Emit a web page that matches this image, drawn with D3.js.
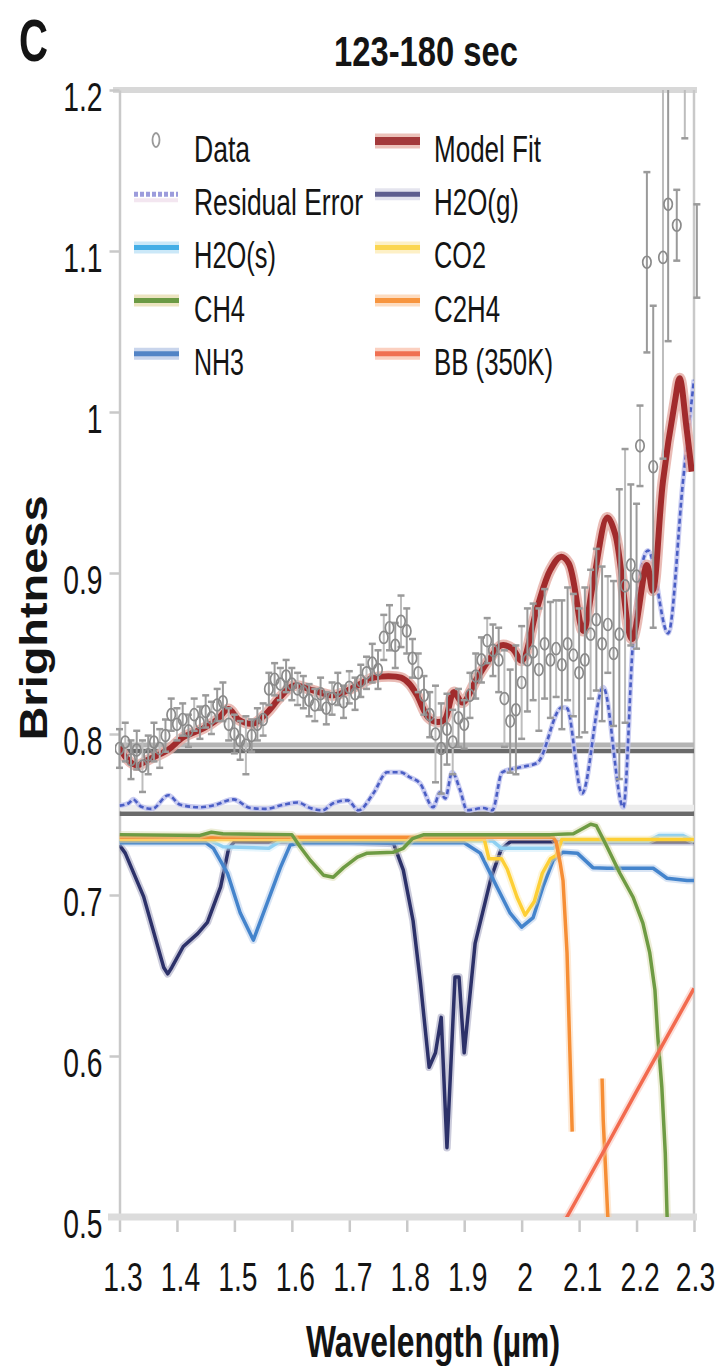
<!DOCTYPE html>
<html>
<head>
<meta charset="utf-8">
<script src="https://cdn.jsdelivr.net/npm/d3@7/dist/d3.min.js"></script>
<style>
html,body{margin:0;padding:0;background:#fff;}
svg{display:block;}
text{font-family:"Liberation Sans",Arial,sans-serif;fill:#141414;}
</style>
</head>
<body>
<svg id="chart" width="719" height="1368"></svg>
<script>
// ================= DATA =================
const xTickValues = [1.3,1.4,1.5,1.6,1.7,1.8,1.9,2.0,2.1,2.2,2.3];
const xTickLabels = ["1.3","1.4","1.5","1.6","1.7","1.8","1.9","2","2.1","2.2","2.3"];
const yTickValues = [0.5,0.6,0.7,0.8,0.9,1.0,1.1,1.2];
const yTickLabels = ["0.5","0.6","0.7","0.8","0.9","1","1.1","1.2"];

// observed spectrum (wavelength µm, brightness, 1-sigma error)
const dataWl = [1.30,1.31,1.32,1.33,1.34,1.35,1.36,1.37,1.38,1.39,
  1.40,1.41,1.42,1.43,1.44,1.45,1.46,1.47,1.48,1.49,
  1.50,1.51,1.52,1.53,1.54,1.55,1.56,1.57,1.58,1.59,
  1.60,1.61,1.62,1.63,1.64,1.65,1.66,1.67,1.68,1.69,
  1.70,1.71,1.72,1.73,1.74,1.75,1.76,1.77,1.78,1.79,
  1.80,1.81,1.82,1.83,1.84,1.85,1.86,1.87,1.88,1.89,
  1.90,1.91,1.92,1.93,1.94,1.95,1.96,1.97,1.98,1.99,
  2.00,2.01,2.02,2.03,2.04,2.05,2.06,2.07,2.08,2.09,
  2.10,2.11,2.12,2.13,2.14,2.15,2.16,2.17,2.18,2.19,
  2.20,2.206,2.218,2.229,2.246,2.255,2.270,2.284,2.305];
const dataVal = [0.791,0.795,0.784,0.790,0.780,0.787,0.795,0.791,0.799,0.812,
  0.806,0.809,0.802,0.812,0.807,0.814,0.810,0.818,0.820,0.806,
  0.800,0.796,0.793,0.799,0.806,0.809,0.828,0.834,0.831,0.836,
  0.831,0.828,0.826,0.821,0.818,0.825,0.816,0.822,0.828,0.820,
  0.829,0.825,0.833,0.838,0.844,0.840,0.860,0.866,0.855,0.870,
  0.864,0.847,0.838,0.824,0.812,0.800,0.791,0.803,0.795,0.810,
  0.806,0.824,0.836,0.846,0.858,0.852,0.846,0.822,0.808,0.815,
  0.832,0.846,0.851,0.840,0.856,0.846,0.853,0.843,0.856,0.849,
  0.838,0.846,0.862,0.871,0.856,0.868,0.850,0.862,0.892,0.905,
  0.898,0.979,1.093,0.966,1.096,1.129,1.116,1.240,1.100];
const dataErr = [0.012,0.012,0.012,0.012,0.016,0.012,0.012,0.012,0.010,0.010,
  0.010,0.010,0.010,0.010,0.010,0.010,0.010,0.010,0.012,0.010,
  0.012,0.012,0.018,0.010,0.010,0.010,0.010,0.010,0.010,0.010,
  0.010,0.010,0.010,0.010,0.010,0.010,0.010,0.010,0.010,0.010,
  0.010,0.010,0.010,0.010,0.012,0.012,0.014,0.014,0.014,0.016,
  0.014,0.012,0.012,0.012,0.014,0.030,0.028,0.022,0.020,0.018,
  0.015,0.014,0.014,0.014,0.014,0.016,0.020,0.030,0.032,0.040,
  0.035,0.032,0.030,0.038,0.034,0.036,0.030,0.040,0.035,0.038,
  0.040,0.045,0.040,0.044,0.048,0.030,0.045,0.090,0.085,0.050,
  0.045,0.025,0.056,0.100,0.125,0.085,0.022,0.070,0.029];

// model fit
const fitWl = [1.300,1.312,1.330,1.350,1.384,1.411,1.446,1.470,1.490,1.507,1.533,1.556,1.580,1.603,1.638,1.673,1.708,1.743,1.790,1.805,1.818,1.838,1.853,1.866,1.882,1.897,1.923,1.945,1.964,1.984,2.000,2.027,2.050,2.068,2.082,2.107,2.125,2.149,2.163,2.192,2.218,2.228,2.246,2.267,2.275,2.287,2.296];
const fitVal = [0.792,0.785,0.7805,0.784,0.790,0.798,0.8035,0.809,0.8155,0.809,0.8065,0.813,0.823,0.830,0.827,0.824,0.829,0.835,0.835,0.831,0.824,0.810,0.8075,0.809,0.826,0.8195,0.835,0.847,0.855,0.853,0.8455,0.8785,0.902,0.910,0.906,0.864,0.895,0.9345,0.924,0.859,0.905,0.889,0.957,1.007,1.021,0.990,0.963];

// residual error
const residWl = [1.300,1.316,1.324,1.337,1.357,1.385,1.406,1.441,1.467,1.498,1.528,1.554,1.585,1.610,1.632,1.653,1.672,1.697,1.716,1.742,1.766,1.789,1.806,1.823,1.846,1.858,1.867,1.879,1.893,1.905,1.933,1.949,1.966,1.997,2.027,2.070,2.079,2.105,2.142,2.177,2.194,2.220,2.255,2.281,2.300];
const residVal = [0.7555,0.757,0.7594,0.755,0.7535,0.762,0.756,0.7545,0.756,0.7594,0.754,0.7535,0.756,0.7575,0.754,0.7526,0.757,0.7588,0.7526,0.7632,0.7762,0.7762,0.773,0.7694,0.7545,0.7638,0.760,0.7762,0.765,0.7526,0.754,0.7526,0.7762,0.7793,0.782,0.8166,0.816,0.763,0.829,0.7545,0.858,0.914,0.8625,0.9575,1.020];

// reference levels
const refLevels = [0.7895, 0.7505];

// model components
const h2ogWl = [1.300,1.310,1.342,1.377,1.384,1.391,1.411,1.436,1.453,1.476,1.490,1.500,1.700,1.777,1.794,1.811,1.824,1.839,1.850,1.860,1.870,1.884,1.891,1.900,1.919,1.947,1.964,1.980,2.300];
const h2ogVal = [0.731,0.726,0.699,0.655,0.651,0.655,0.668,0.676,0.683,0.705,0.729,0.733,0.733,0.732,0.7154,0.684,0.645,0.593,0.602,0.624,0.543,0.649,0.649,0.602,0.670,0.711,0.728,0.733,0.733];
const h2osWl = [1.300,1.460,1.480,1.560,1.580,1.950,1.965,2.055,2.070,2.220,2.240,2.280,2.300];
const h2osVal = [0.7335,0.7335,0.730,0.729,0.7335,0.7335,0.729,0.729,0.7335,0.7335,0.737,0.737,0.7335];
const nh3Wl = [1.300,1.450,1.4635,1.488,1.510,1.533,1.557,1.580,1.597,1.620,1.900,1.928,1.957,1.980,2.000,2.020,2.037,2.055,2.072,2.097,2.124,2.149,2.229,2.253,2.288,2.300];
const nh3Val = [0.7325,0.7325,0.729,0.7135,0.689,0.672,0.695,0.717,0.731,0.7325,0.7325,0.726,0.705,0.6887,0.680,0.686,0.705,0.7216,0.7266,0.726,0.717,0.7166,0.7166,0.7104,0.709,0.709];
const co2Wl = [1.300,1.935,1.943,1.965,1.975,1.992,2.006,2.022,2.036,2.050,2.060,2.070,2.300];
const co2Val = [0.7345,0.7345,0.7225,0.7225,0.716,0.6986,0.6875,0.696,0.7135,0.7225,0.7245,0.7345,0.7345];
const ch4Wl = [1.300,1.440,1.460,1.480,1.600,1.615,1.632,1.655,1.672,1.690,1.714,1.731,1.777,1.794,1.810,1.830,2.050,2.090,2.105,2.120,2.130,2.140,2.149,2.171,2.194,2.211,2.223,2.232,2.237,2.244,2.250,2.253,2.256];
const ch4Val = [0.7375,0.737,0.739,0.738,0.7375,0.7297,0.7216,0.7123,0.711,0.717,0.7235,0.726,0.7266,0.729,0.735,0.7375,0.7375,0.738,0.741,0.744,0.743,0.736,0.7297,0.7135,0.6986,0.6825,0.664,0.641,0.612,0.5807,0.5397,0.5025,0.47];
const c2h4Wl = [1.300,2.055,2.060,2.067,2.072,2.079,2.084,2.088,2.110,2.140,2.142,2.146,2.150,2.153];
const c2h4Val = [0.7358,0.7358,0.733,0.720,0.709,0.664,0.602,0.553,null,0.586,0.560,0.530,0.500,0.480];
const bbWl = [2.060,2.100,2.150,2.200,2.250,2.300];
const bbVal = [0.488,0.5135,0.5455,0.578,0.610,0.642];

const legendLeft = ["Data","Residual Error","H2O(s)","CH4","NH3"];
const legendRight = ["Model Fit","H2O(g)","CO2","C2H4","BB (350K)"];

// ================= DRAWING =================
const svg = d3.select("#chart");
const x = d3.scaleLinear().domain([1.3,2.3]).range([119.5,694]);
const y = d3.scaleLinear().domain([0.5,1.2]).range([1217,90]);

const defs = svg.append("defs");
defs.append("clipPath").attr("id","plotClip").append("rect")
  .attr("x",119.5).attr("y",90).attr("width",694-119.5).attr("height",1217-90);
defs.append("clipPath").attr("id","dataClip").append("rect")
  .attr("x",115).attr("y",90).attr("width",592).attr("height",1217-90);

const grey = "#c9c9c9";
const condense = 0.69;   // horizontal squeeze of the narrow tick font

// Frame lines
svg.append("line").attr("x1",113).attr("x2",697).attr("y1",y(1.2)).attr("y2",y(1.2))
  .attr("stroke","#d8d8d8").attr("stroke-width",6);
svg.append("line").attr("x1",x(2.3)).attr("x2",x(2.3)).attr("y1",y(1.2)).attr("y2",y(0.5))
  .attr("stroke",grey).attr("stroke-width",2.5);

// Y axis
const gy = svg.append("g").attr("transform",`translate(${x(1.3)},0)`)
  .call(d3.axisLeft(y).tickValues(yTickValues).tickSize(10).tickSizeOuter(0)
    .tickFormat((d,i)=>yTickLabels[i]));
gy.attr("font-size",null).attr("font-family",null);
gy.select(".domain").attr("stroke",grey).attr("stroke-width",2.5);
gy.selectAll(".tick line").attr("stroke",grey).attr("stroke-width",2.5);
gy.selectAll(".tick text")
  .attr("x",-17/condense).attr("dy",null).attr("y",20)
  .attr("transform",`scale(${condense},1)`)
  .attr("font-size",41).attr("fill","#141414");

// X axis
const gx = svg.append("g").attr("transform",`translate(0,${y(0.5)})`)
  .call(d3.axisBottom(x).tickValues(xTickValues).tickSize(15).tickSizeOuter(0)
    .tickFormat((d,i)=>xTickLabels[i]));
gx.attr("font-size",null).attr("font-family",null);
gx.select(".domain").attr("stroke","none");
gx.selectAll(".tick line").attr("stroke",grey).attr("stroke-width",2.5);
gx.selectAll(".tick text")
  .attr("dy",null).attr("y",74)
  .attr("x",(d,i)=>(i===xTickLabels.length-1?1:3)/condense)
  .attr("transform",`scale(${condense},1)`)
  .attr("font-size",41).attr("fill","#141414");

// bottom thick line
svg.append("line").attr("x1",108).attr("x2",697).attr("y1",y(0.5)).attr("y2",y(0.5))
  .attr("stroke","#dcdcdc").attr("stroke-width",7);

// ---- plot content ----
const plot = svg.append("g").attr("clip-path","url(#plotClip)");

function series(wl, val){ return wl.map((w,i)=>[w,val[i]]); }
function drawLine(g, pts, color, width, opts){
  opts = opts || {};
  const ln = d3.line().defined(d=>d[1]!==null).x(d=>x(d[0])).y(d=>y(d[1]))
    .curve(opts.curve || d3.curveLinear);
  if (opts.halo) {
    g.append("path").attr("d",ln(pts)).attr("fill","none").attr("stroke",opts.halo)
      .attr("stroke-width",width+(opts.haloExtra||4)).attr("stroke-linejoin","round")
      .attr("stroke-opacity",opts.haloOpacity||0.45);
  }
  const p = g.append("path").attr("d",ln(pts)).attr("fill","none").attr("stroke",color)
    .attr("stroke-width",width).attr("stroke-linejoin","round");
  if (opts.dash) p.attr("stroke-dasharray",opts.dash);
  return p;
}

// components
const comp = plot.append("g");
drawLine(comp, series(h2ogWl,h2ogVal), "#2c3169", 3.5, {halo:"#8c8cb0"});
drawLine(comp, series(h2osWl,h2osVal), "#8fd0f2", 3.5, {halo:"#c8e8f8"});
drawLine(comp, series(nh3Wl,nh3Val), "#4484cc", 3.5, {halo:"#a9c3e6"});
drawLine(comp, series(co2Wl,co2Val), "#fdcf35", 3.5, {halo:"#fde9a6"});
drawLine(comp, series(c2h4Wl,c2h4Val), "#f68e35", 3.5, {halo:"#fbcfa5"});
drawLine(comp, series(ch4Wl,ch4Val), "#6e9b43", 3.5, {halo:"#d8d6a6"});
drawLine(comp, series(bbWl,bbVal), "#f26a4e", 3.5, {halo:"#f9b9aa"});

// reference levels
plot.append("line").attr("x1",x(1.3)).attr("x2",x(2.3)).attr("y1",y(refLevels[0])-6).attr("y2",y(refLevels[0])-6)
  .attr("stroke","#b4b4b4").attr("stroke-width",5);
plot.selectAll("line.ref").data(refLevels).join("line").attr("class","ref")
  .attr("x1",x(1.3)).attr("x2",x(2.3)).attr("y1",d=>y(d)).attr("y2",d=>y(d))
  .attr("stroke","#6a6a6a").attr("stroke-width",4.5);
plot.append("line").attr("x1",x(1.3)).attr("x2",x(2.3)).attr("y1",y(refLevels[1])-6).attr("y2",y(refLevels[1])-6)
  .attr("stroke","#ececec").attr("stroke-width",6);

// residual error
drawLine(plot, series(residWl,residVal), "#4a5ec4", 2.6, {halo:"#c3c6ef", haloExtra:2.5, haloOpacity:0.9, dash:"5,3", curve:d3.curveMonotoneX});

// data
const dg = svg.append("g").attr("clip-path","url(#dataClip)");
const pts = dataWl.map((w,i)=>({w:w, v:dataVal[i], e:dataErr[i]}));
dg.selectAll("line.eb").data(pts).join("line").attr("class","eb")
  .attr("x1",d=>x(d.w)).attr("x2",d=>x(d.w))
  .attr("y1",d=>y(d.v-d.e)).attr("y2",d=>y(d.v+d.e))
  .attr("stroke",(d,i)=>i%3===1?"#bdbdbd":"#9a9a9a").attr("stroke-width",2);
dg.selectAll("line.capT").data(pts).join("line").attr("class","capT")
  .attr("x1",d=>x(d.w)-3.5).attr("x2",d=>x(d.w)+3.5)
  .attr("y1",d=>y(d.v+d.e)).attr("y2",d=>y(d.v+d.e))
  .attr("stroke","#9a9a9a").attr("stroke-width",2.5);
dg.selectAll("line.capB").data(pts).join("line").attr("class","capB")
  .attr("x1",d=>x(d.w)-3.5).attr("x2",d=>x(d.w)+3.5)
  .attr("y1",d=>y(d.v-d.e)).attr("y2",d=>y(d.v-d.e))
  .attr("stroke","#9a9a9a").attr("stroke-width",2.5);
dg.selectAll("ellipse.pt").data(pts.filter(d=>d.w<=2.3)).join("ellipse").attr("class","pt")
  .attr("cx",d=>x(d.w)).attr("cy",d=>y(d.v)).attr("rx",4.2).attr("ry",6)
  .attr("fill","none").attr("stroke","#8a8a8a").attr("stroke-width",1.7);

// model fit
drawLine(plot, series(fitWl,fitVal), "#a12b2c", 6, {halo:"#e4aaa2", haloExtra:5, haloOpacity:0.8, curve:d3.curveCatmullRom.alpha(0.5)});

// ---- legend ----
const legendStyle = {
  "Data":{type:"pt"},
  "Residual Error":{type:"dash", color:"#9c9cdc"},
  "H2O(s)":{color:"#45aee6", halo:"#cbe8f8"},
  "CH4":{color:"#6b9a44", halo:"#ece4c0"},
  "NH3":{color:"#5284c6", halo:"#c9d5ec"},
  "Model Fit":{color:"#a3393a", halo:"#ecc2ba", width:8},
  "H2O(g)":{color:"#5f5f8f", halo:"#e4e4ee"},
  "CO2":{color:"#fbd652", halo:"#fdf0c6"},
  "C2H4":{color:"#f7953f", halo:"#fddcc0"},
  "BB (350K)":{color:"#f07052", halo:"#fbd0c0"}
};
const textLen = {"Data":56,"Residual Error":169,"H2O(s)":82,"CH4":51,"NH3":50,
  "Model Fit":107,"H2O(g)":85,"CO2":52,"C2H4":66,"BB (350K)":119};
const leg = svg.append("g");
function legendCol(labels, symX, txtX){
  labels.forEach((lab,i)=>{
    const base = 162 + i*53.2;
    const ly = base - 21;
    const st = legendStyle[lab];
    if (st.type==="pt") {
      leg.append("ellipse").attr("cx",symX+22).attr("cy",ly-1).attr("rx",3.5).attr("ry",7)
        .attr("fill","none").attr("stroke","#9a9a9a").attr("stroke-width",1.8);
    } else if (st.type==="dash") {
      leg.append("line").attr("x1",symX).attr("x2",symX+44).attr("y1",ly+6).attr("y2",ly+6)
        .attr("stroke","#f3e6f0").attr("stroke-width",4);
      leg.append("line").attr("x1",symX).attr("x2",symX+44).attr("y1",ly).attr("y2",ly)
        .attr("stroke",st.color).attr("stroke-width",5).attr("stroke-dasharray","4,2");
    } else {
      const w = st.width||5;
      leg.append("line").attr("x1",symX).attr("x2",symX+45).attr("y1",ly).attr("y2",ly)
        .attr("stroke",st.halo).attr("stroke-width",w+7);
      leg.append("line").attr("x1",symX).attr("x2",symX+45).attr("y1",ly).attr("y2",ly)
        .attr("stroke",st.color).attr("stroke-width",w);
    }
    leg.append("text").attr("x",txtX).attr("y",base).attr("font-size",37)
      .attr("textLength",textLen[lab]).attr("lengthAdjust","spacingAndGlyphs").text(lab);
  });
}
legendCol(legendLeft, 134, 194);
legendCol(legendRight, 375, 434);

// ---- titles ----
svg.append("text").attr("x",19).attr("y",61).attr("font-size",60).attr("font-weight","bold")
  .attr("textLength",29).attr("lengthAdjust","spacingAndGlyphs").text("C");
svg.append("text").attr("x",334).attr("y",66).attr("font-size",43).attr("font-weight","bold")
  .attr("textLength",184).attr("lengthAdjust","spacingAndGlyphs").text("123-180 sec");
svg.append("text").attr("x",306).attr("y",1357).attr("font-size",45).attr("font-weight","bold")
  .attr("textLength",254).attr("lengthAdjust","spacingAndGlyphs").text("Wavelength (µm)");
svg.append("text").attr("transform","translate(47,618) rotate(-90)").attr("text-anchor","middle")
  .attr("font-size",39).attr("font-weight","bold")
  .attr("textLength",245).attr("lengthAdjust","spacingAndGlyphs").text("Brightness");
</script>
</body>
</html>
